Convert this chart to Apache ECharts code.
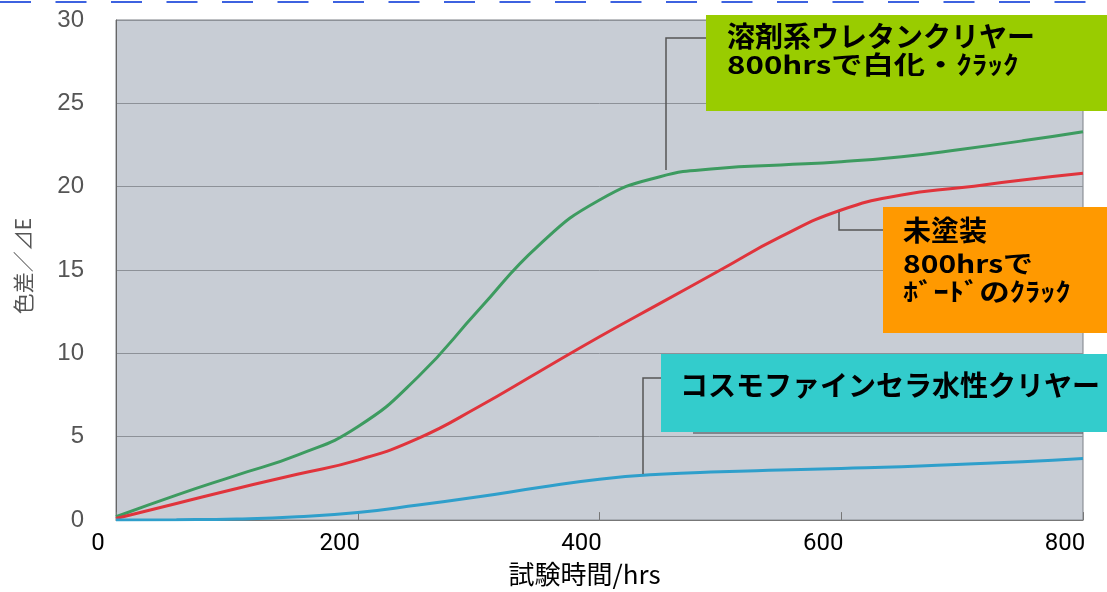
<!DOCTYPE html>
<html>
<head>
<meta charset="utf-8">
<script src="https://cdn.jsdelivr.net/npm/echarts@6/dist/echarts.min.js"></script>
<style>
html,body{margin:0;padding:0;background:#fff;}
#c{width:1107px;height:592px;}
</style>
</head>
<body>
<div id="c"></div>
<script>
// Data
const hours = [0, 50, 100, 150, 200, 250, 300, 350, 400, 450, 500, 550, 600, 650, 700, 750, 800];
const solventUrethane = [0.2, 1.5, 2.7, 3.9, 5.6, 8.6, 12.6, 16.5, 19.2, 20.6, 21.1, 21.3, 21.5, 21.8, 22.25, 22.75, 23.3];
const unpainted = [0.1, 1.0, 1.9, 2.75, 3.6, 4.9, 6.8, 8.9, 11.0, 13.0, 15.0, 17.0, 18.6, 19.5, 19.95, 20.4, 20.8];
const cosmoClear = [0.0, 0.02, 0.07, 0.2, 0.45, 0.9, 1.4, 1.95, 2.45, 2.75, 2.9, 3.0, 3.1, 3.2, 3.35, 3.5, 3.7];
const xTicks = [0, 200, 400, 600, 800];
const yTicks = [0, 5, 10, 15, 20, 25, 30];
const seriesNames = ['溶剤系ウレタンクリヤー', '未塗装', 'コスモファインセラ水性クリヤー'];

const pairs = arr => hours.map((h, i) => [h, arr[i]]);
const chart = echarts.init(document.getElementById('c'));
const jp = "'Noto Sans CJK JP', sans-serif";

chart.setOption({
  animation: false,
  backgroundColor: '#ffffff',
  grid: {
    left: 116, right: 24, top: 20, bottom: 65,
    show: true, backgroundColor: '#c8cdd5', borderColor: '#7c8087', borderWidth: 1
  },
  xAxis: {
    type: 'value', min: 0, max: 800, interval: 200,
    name: '試験時間/hrs', nameLocation: 'middle', nameGap: 38,
    nameTextStyle: { fontFamily: jp, fontSize: 26, color: '#000', padding: [0, 30, 0, 0] },
    axisLine: { show: true, lineStyle: { color: '#777', width: 1 } },
    axisTick: { show: true, inside: true, length: 8, lineStyle: { color: '#777' } },
    axisLabel: {
      color: '#000', fontSize: 24, margin: 12,
      fontFamily: "'Liberation Sans Narrow', 'Roboto', sans-serif",
      padding: [0, 36, 0, 0],
      formatter: v => xTicks.includes(v) ? String(v) : ''
    },
    splitLine: { show: false }
  },
  yAxis: {
    type: 'value', min: 0, max: 30, interval: 5,
    name: '色差／⊿E', nameLocation: 'middle', nameGap: 82, nameRotate: 90,
    nameTextStyle: { fontFamily: jp, fontSize: 21, color: '#555', padding: [0, 0, 0, 8] },
    axisLine: { show: true, lineStyle: { color: '#666', width: 1 } },
    axisTick: { show: false },
    axisLabel: {
      color: '#555', fontSize: 24, margin: 32,
      fontFamily: "'Liberation Sans', sans-serif",
      formatter: v => yTicks.includes(v) ? String(v) : ''
    },
    splitLine: { show: true, lineStyle: { color: '#8d9198', width: 1 } }
  },
  series: [
    { name: seriesNames[0], type: 'line', data: pairs(solventUrethane), smooth: 0.5, symbol: 'none',
      lineStyle: { color: '#3d9b60', width: 3 } },
    { name: seriesNames[1], type: 'line', data: pairs(unpainted), smooth: 0.5, symbol: 'none',
      lineStyle: { color: '#e0343c', width: 3 } },
    { name: seriesNames[2], type: 'line', data: pairs(cosmoClear), smooth: 0.5, symbol: 'none',
      lineStyle: { color: '#2f9fcb', width: 3 } }
  ],
  graphic: [
    { type: 'line', shape: { x1: 0, y1: 2, x2: 1107, y2: 2 }, style: { stroke: '#3d62e0', lineWidth: 2, lineDash: [31, 24.5] }, z: 10 },
    { type: 'polyline', shape: { points: [[706, 38], [666, 38], [666, 170]] }, style: { stroke: '#555', lineWidth: 1.5, fill: null }, z: 10 },
    { type: 'polyline', shape: { points: [[839, 212], [839, 230], [883, 230]] }, style: { stroke: '#555', lineWidth: 1.5, fill: null }, z: 10 },
    { type: 'polyline', shape: { points: [[661, 378], [643, 378], [643, 474]] }, style: { stroke: '#555', lineWidth: 1.5, fill: null }, z: 10 },
    { type: 'line', shape: { x1: 693, y1: 433, x2: 1083, y2: 433 }, style: { stroke: '#6a6e74', lineWidth: 1.5 }, z: 9 },
    { type: 'rect', shape: { x: 706, y: 15, width: 401, height: 96 }, style: { fill: '#99cc00' }, z: 11 },
    { type: 'text', x: 727, y: 36, style: { text: '溶剤系ウレタンクリヤー', fontFamily: jp, fontWeight: 'bold', fontSize: 28, fill: '#000', textVerticalAlign: 'middle' }, z: 12 },
    { type: 'text', x: 727, y: 64, scaleX: 1.25, style: { text: '800hrsで白化・ｸﾗｯｸ', fontFamily: jp, fontWeight: 'bold', fontSize: 25, fill: '#000', textVerticalAlign: 'middle' }, z: 12 },
    { type: 'rect', shape: { x: 883, y: 207, width: 224, height: 126 }, style: { fill: '#ff9900' }, z: 11 },
    { type: 'text', x: 903, y: 230, style: { text: '未塗装', fontFamily: jp, fontWeight: 'bold', fontSize: 28, fill: '#000', textVerticalAlign: 'middle' }, z: 12 },
    { type: 'text', x: 903, y: 263, scaleX: 1.2, style: { text: '800hrsで', fontFamily: jp, fontWeight: 'bold', fontSize: 25, fill: '#000', textVerticalAlign: 'middle' }, z: 12 },
    { type: 'text', x: 903, y: 291, scaleX: 1.22, style: { text: 'ﾎﾞｰﾄﾞのｸﾗｯｸ', fontFamily: jp, fontWeight: 'bold', fontSize: 25, fill: '#000', textVerticalAlign: 'middle' }, z: 12 },
    { type: 'rect', shape: { x: 661, y: 354, width: 446, height: 78 }, style: { fill: '#33cccc' }, z: 11 },
    { type: 'text', x: 680, y: 385, style: { text: 'コスモファインセラ水性クリヤー', fontFamily: jp, fontWeight: 'bold', fontSize: 28, fill: '#000', textVerticalAlign: 'middle' }, z: 12 }
  ]
});
</script>
</body>
</html>
